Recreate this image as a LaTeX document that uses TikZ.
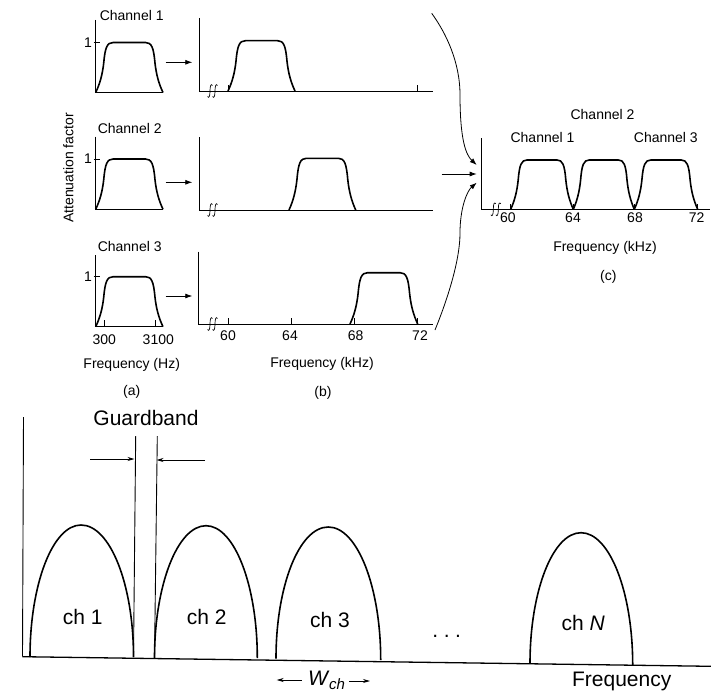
\documentclass[tikz,border=0pt]{standalone}
\usepackage{fontspec}
\setmainfont{Liberation Sans}
\usetikzlibrary{arrows.meta}

\tikzset{
  axis/.style={line width=0.9pt},
  curve/.style={line width=1.6pt, line join=round},
  tickmark/.style={line width=0.7pt},
  lbl/.style={inner sep=0pt, font=\fontsize{14}{16}\selectfont},
  biglbl/.style={inner sep=0pt, font=\fontsize{21}{24}\selectfont},
  feed/.style={line width=0.8pt, -{Latex[length=7pt,width=5pt]}},
  arch/.style={line width=1.6pt},
  baseln/.style={line width=1.3pt},
  dimarrow/.style={line width=0.8pt, -{Stealth[length=7pt,width=4pt]}},
}

% flat-topped passband: left x, baseline y, width, height
\newcommand\bandpass[4]{%
  \begin{scope}[shift={(#1,#2)},xscale=#3,yscale=-#4]
    \draw[curve] (0,0) .. controls (0.06,0.17) and (0.1,0.35) .. (0.12,0.6)
      .. controls (0.14,0.9) and (0.17,1) .. (0.26,1) -- (0.74,1)
      .. controls (0.83,1) and (0.86,0.9) .. (0.88,0.6)
      .. controls (0.9,0.35) and (0.94,0.17) .. (1,0);
  \end{scope}}

% axis break (two integral-like strokes) centred on x, baseline y
\newcommand\axbreak[2]{%
  \foreach \bx in {#1, #1+5}{
    \draw[tickmark] (\bx-2.5,#2+5.5) .. controls (\bx-1.2,#2+7.5) and (\bx,#2+6) .. (\bx,#2)
      .. controls (\bx,#2-6) and (\bx+1.2,#2-7.5) .. (\bx+2.5,#2-5.5);}}

\begin{document}
\begin{tikzpicture}[x=1pt,y=-1pt]
\useasboundingbox (0,0) rectangle (711,693);

% ---------------- (a) baseband channels ----------------
\node[lbl, rotate=90] (att) at (68.3,168) {Attenuation factor};

\draw[axis] (95.7,20) -- (95.7,92.5) -- (163,92.5);
\bandpass{95.7}{92.5}{67.3}{50}
\draw[tickmark] (93.5,42.5) -- (100,42.5);
\node[lbl] (one1) at (88,42.5) {1};
\node[lbl] (cha1) at (131.7,15) {Channel 1};

\draw[axis] (95.7,136.7) -- (95.7,209.3) -- (163,209.3);
\bandpass{95.7}{209.3}{67.3}{50.3}
\draw[tickmark] (93.5,159) -- (100,159);
\node[lbl] (one2) at (88,159) {1};
\node[lbl] (cha2) at (129.7,128.3) {Channel 2};

\draw[axis] (95.7,255) -- (95.7,326.7) -- (163,326.7);
\bandpass{95.7}{326.7}{67.3}{50}
\draw[tickmark] (93.5,276.7) -- (100,276.7);
\node[lbl] (one3) at (88,276.7) {1};
\node[lbl] (cha3) at (129.7,246.7) {Channel 3};
\draw[tickmark] (104.3,326.7) -- (104.3,320);
\draw[tickmark] (155.7,326.7) -- (155.7,320);
\node[lbl] (f300) at (104.3,339.3) {300};
\node[lbl] (f3100) at (158.3,339.3) {3100};
\node[lbl] (fa) at (131.7,365) {Frequency (Hz)};
\node[lbl] (capa) at (131.7,392.3) {(a)};

% ---------------- modulation arrows ----------------
\coordinate (a1) at (165.7,62.3);  \coordinate (b1) at (192.3,62.3);
\coordinate (a2) at (165.7,182.3); \coordinate (b2) at (192.3,182.3);
\coordinate (a3) at (165.7,296);   \coordinate (b3) at (192.3,296);
\draw[feed] (a1) -- (b1);
\draw[feed] (a2) -- (b2);
\draw[feed] (a3) -- (b3);

% ---------------- (b) shifted channels ----------------
\draw[axis] (199,18) -- (199,91) -- (433,91);
\axbreak{210}{91}
\draw[tickmark] (228,91) -- (228,85);
\draw[tickmark] (417,91) -- (417,85);
\bandpass{228}{91}{67}{50.3}

\draw[axis] (199,137) -- (199,210) -- (433,210);
\axbreak{210}{210}
\bandpass{289}{210}{66.7}{51.7}

\draw[axis] (198.5,251.7) -- (198.5,324) -- (433,324);
\axbreak{210}{324}
\foreach \tx in {228,291,354,417}{\draw[tickmark] (\tx,324) -- (\tx,317.5);}
\bandpass{350}{324}{67.7}{51.3}
\node[lbl] (k60) at (228,335.7) {60};
\node[lbl] (k64) at (290,335.7) {64};
\node[lbl] (k68) at (355.7,335.7) {68};
\node[lbl] (k72) at (420,335.7) {72};
\node[lbl] (fb) at (322,364.3) {Frequency (kHz)};
\node[lbl] (capb) at (323,392.7) {(b)};

% ---------------- combining arrows ----------------
\coordinate (u0) at (431.7,13.3);
\coordinate (m0) at (441.7,174);
\coordinate (l0) at (435,330);
\coordinate (u1) at (476.7,165);
\coordinate (m1) at (476.7,174);
\coordinate (l1) at (476.7,182.7);
\draw[feed] (u0) .. controls (446,33) and (460,62) .. (460,95)
  .. controls (460,140) and (466,155) .. (u1);
\draw[feed] (m0) -- (m1);
\draw[feed] (l0) .. controls (446,303) and (460,262) .. (460,233)
  .. controls (460,208) and (467,191) .. (l1);

% ---------------- (c) multiplexed group ----------------
\draw[axis] (481.7,138.3) -- (481.7,209.3) -- (710,209.3);
\axbreak{493.3}{209.3}
\foreach \tx in {510.7,573.3,634.3,697.7}{\draw[tickmark] (\tx,209.3) -- (\tx,204);}
\bandpass{510.7}{209.3}{62.6}{49.3}
\bandpass{573.3}{209.3}{61}{49.3}
\bandpass{634.3}{209.3}{63.4}{49.3}
\node[lbl] (c60) at (507.8,218) {60};
\node[lbl] (c64) at (573,218) {64};
\node[lbl] (c68) at (635,218) {68};
\node[lbl] (c72) at (696.7,218) {72};
\node[lbl] (cc2) at (602.5,114) {Channel 2};
\node[lbl] (cc1) at (542.5,137.5) {Channel 1};
\node[lbl] (cc3) at (665.8,137.5) {Channel 3};
\node[lbl] (fc) at (605,248.3) {Frequency (kHz)};
\node[lbl] (capc) at (608.3,276.7) {(c)};

% ---------------- FDM spectrum with guard bands ----------------
\draw[axis] (23.5,417) -- (22.5,656.7);
\draw[baseln] (22.5,656.7) -- (711,666.3);

\draw[axis] (135.7,436) -- (133.5,657);
\draw[axis] (157.3,436) -- (154.5,658);
\node[biglbl] (guard) at (146,417.7) {Guardband};
\coordinate (g1) at (90,459);  \coordinate (g1e) at (134.5,459);
\coordinate (g2) at (205,460); \coordinate (g2e) at (156.5,460);
\draw[dimarrow] (g1) -- (g1e);
\draw[dimarrow] (g2) -- (g2e);

\draw[arch] (30,657) .. controls (30,584) and (52.8,525) .. (81,525)
  .. controls (110,525) and (133.5,584) .. (133.5,657);
\draw[arch] (154.5,658) .. controls (154.5,585) and (177.6,525.7) .. (206,525.7)
  .. controls (234.3,525.7) and (257.3,585) .. (257.3,658);
\draw[arch] (276,658.5) .. controls (276,585.9) and (299.2,527) .. (328.3,527)
  .. controls (357.2,527) and (380.7,586.5) .. (380.7,660);
\draw[arch] (530,663.3) .. controls (530,591.2) and (552.8,532.7) .. (581,532.7)
  .. controls (609.6,532.7) and (632.7,591.9) .. (632.7,665);

\node[biglbl] (ch1) at (82.7,617.3) {ch 1};
\node[biglbl] (ch2) at (206.7,617.3) {ch 2};
\node[biglbl] (ch3) at (330,619.5) {ch 3};
\node[biglbl] (chN) at (583.3,623.3) {ch \textit{N}};
\node[biglbl] (dots) at (446.7,636) {.\hspace{5.5pt}.\hspace{5.5pt}.};

\node[biglbl] (wch) at (326.5,680) {\textit{W}\kern-0.5pt\raisebox{-4pt}{\fontsize{15}{15}\selectfont\textit{ch}}};
\coordinate (wl) at (276.7,680);
\coordinate (wr) at (370,681);
\draw[dimarrow] ([xshift=-6pt]wch.west) -- (wl);
\draw[dimarrow] ([xshift=4pt,yshift=-1pt]wch.east) -- (wr);

\node[biglbl] (freq) at (621.7,681.7) {Frequency};
\end{tikzpicture}
\end{document}
